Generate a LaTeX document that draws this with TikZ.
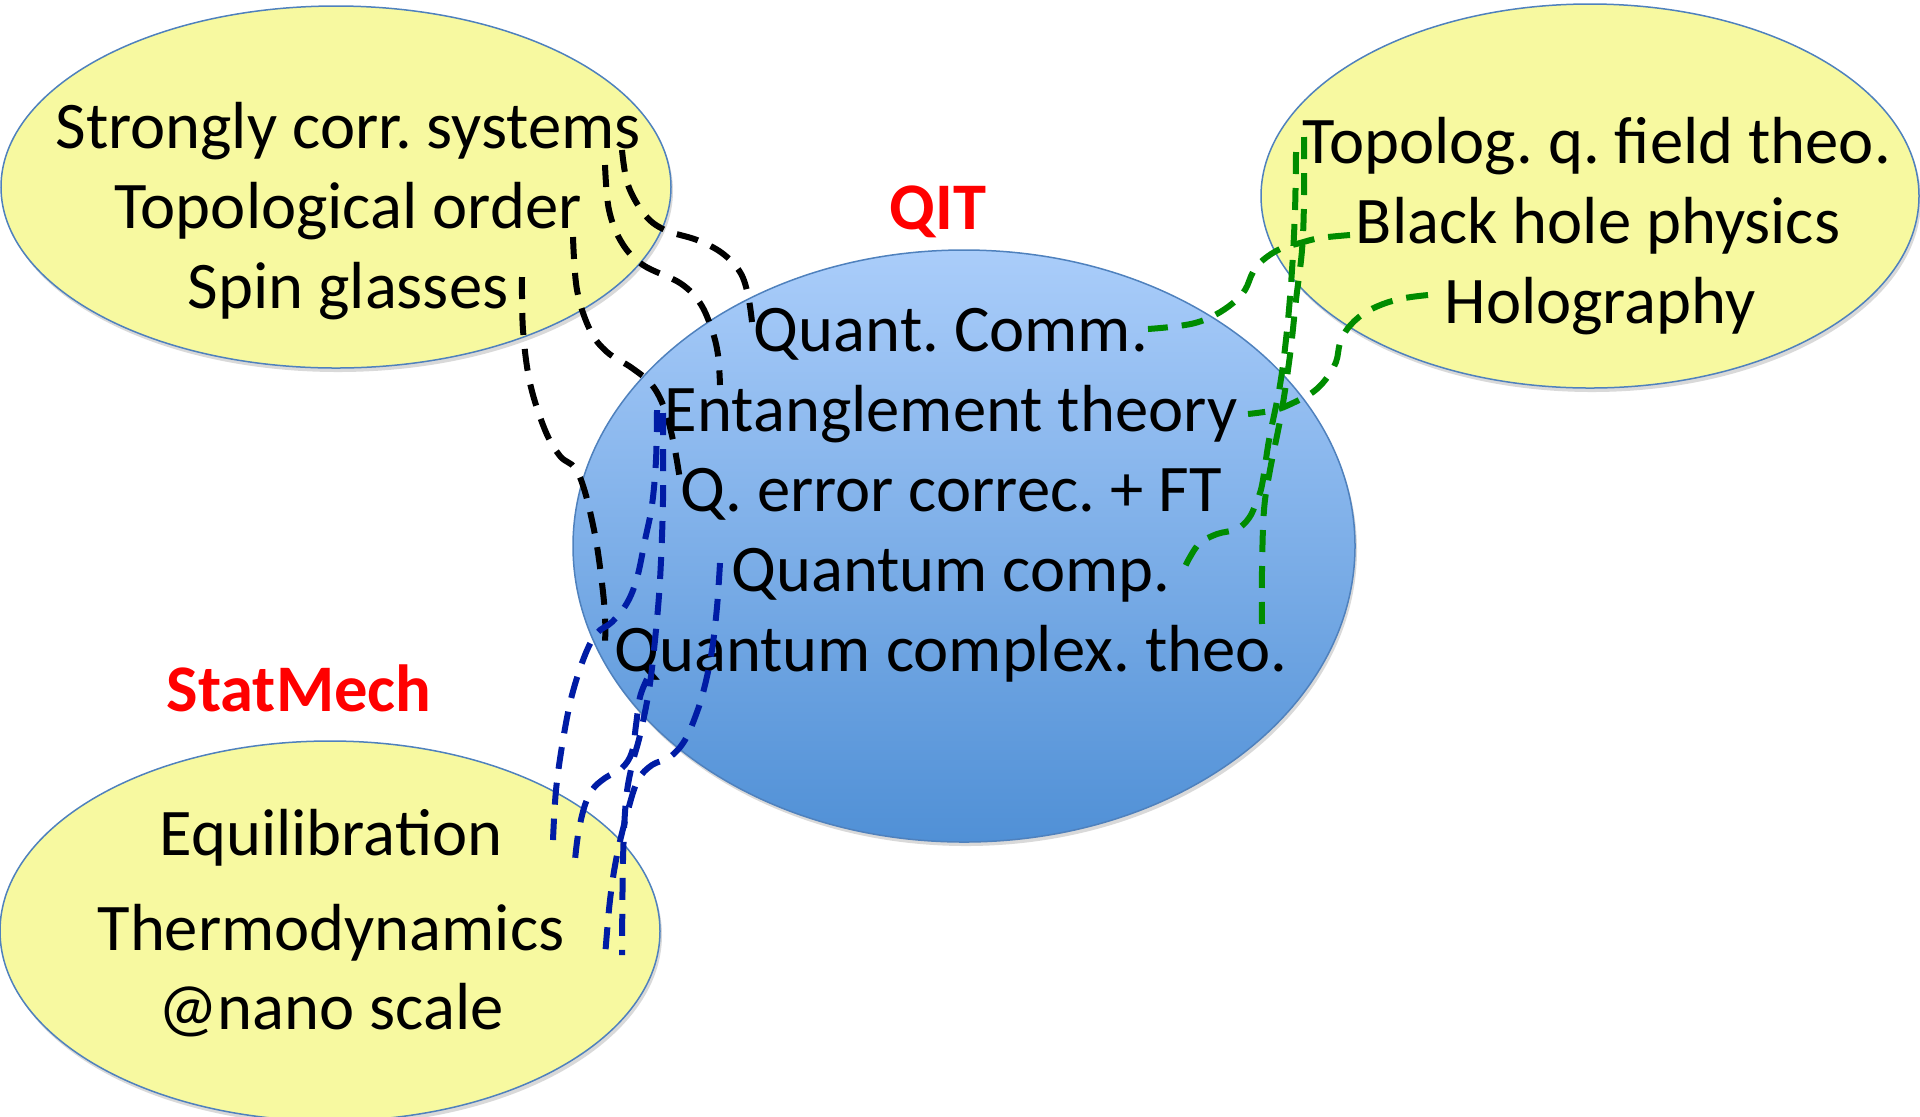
\documentclass[tikz,border=0pt]{standalone}
\usepackage{fontspec}
\setmainfont{Carlito}
\usetikzlibrary{shapes.geometric}
\definecolor{ylw}{RGB}{247,249,160}
\definecolor{edgeblue}{RGB}{79,129,189}
\definecolor{btop}{RGB}{170,205,250}
\definecolor{bbot}{RGB}{80,144,214}
\definecolor{qred}{RGB}{255,0,0}
\definecolor{dblue}{RGB}{0,28,165}
\definecolor{dgreen}{RGB}{0,140,0}
\frenchspacing
\begin{document}
\begin{tikzpicture}[x=0.5pt,y=-0.5pt,
  ell/.style={ellipse, draw=edgeblue, line width=0.75pt, inner sep=0pt},
  shad/.style={ellipse, fill=black, opacity=0.15, inner sep=0pt},
  txt/.style={anchor=base, inner sep=0pt, font=\fontsize{33.3}{40}\selectfont},
  ttl/.style={anchor=base, inner sep=0pt, text=qred, font=\fontsize{33.3}{40}\selectfont\bfseries},
  lnk/.style={line width=3pt, dash pattern=on 11pt off 7pt},
  blk/.style={lnk, draw=black},
  blu/.style={lnk, draw=dblue},
  grn/.style={lnk, draw=dgreen}]
\useasboundingbox (0,0) rectangle (1920,1116);
% shadows
\node[shad, minimum width=335pt, minimum height=181pt] at (338,191) {};
\node[shad, minimum width=329pt, minimum height=192pt] at (1592,200) {};
\node[shad, minimum width=391pt, minimum height=296pt] at (966,550) {};
\node[shad, minimum width=330pt, minimum height=190pt] at (332,935) {};
% ellipses
\node[ell, fill=ylw, minimum width=335pt, minimum height=181pt] (ecm) at (336,187) {};
\node[ell, fill=ylw, minimum width=329pt, minimum height=192pt] (ehep) at (1590,196) {};
\node[ell, top color=btop, bottom color=bbot, minimum width=391pt, minimum height=296pt] (eqit) at (964,546) {};
\node[ell, fill=ylw, minimum width=330pt, minimum height=190pt] (esm) at (330,931) {};
% texts
\node[txt] (scs) at (348,148) {Strongly corr. systems};
\node[txt] (topo) at (348,228) {Topological order};
\node[txt] (spin) at (348,308) {Spin glasses};
\node[ttl] (qit) at (938,229) {QIT};
\node[txt] (qc) at (951,351) {Quant. Comm.};
\node[txt] (ent) at (951,431) {Entanglement theory};
\node[txt] (qec) at (951,511) {Q. error correc. + FT};
\node[txt] (qcomp) at (951,591) {Quantum comp.};
\node[txt] (qcx) at (951,671) {Quantum complex. theo.};
\node[txt] (tqft) at (1597,163) {Topolog. q. field theo.};
\node[txt] (bh) at (1598,243) {Black hole physics};
\node[txt] (holo) at (1600,323) {Holography};
\node[ttl] (sm) at (299,711) {StatMech};
\node[txt] (eq) at (331,855) {Equilibration};
\node[txt] (thermo) at (331,950) {Thermodynamics};
\node[txt] (nano) at (331,1029) {@nano scale};
% connector end points
\coordinate (a1) at (622,150); \coordinate (a2) at (752,322);
\coordinate (b1) at (605,165); \coordinate (b2) at (720,385);
\coordinate (c1) at (573,237); \coordinate (c2) at (680,480);
\coordinate (d1) at (522,277); \coordinate (d2) at (605,648);
\coordinate (e1) at (657,410); \coordinate (e2) at (553,840);
\coordinate (f1) at (663,413); \coordinate (f2) at (622,955);
\coordinate (x1) at (647,679); \coordinate (x2) at (575,860);
\coordinate (g1) at (720,563); \coordinate (g2) at (605,957);
\coordinate (h1) at (1304,137); \coordinate (h2) at (1262,625);
\coordinate (i1) at (1296,152); \coordinate (i2) at (1182,573);
\coordinate (j1) at (1350,235); \coordinate (j2) at (1148,329);
\coordinate (k1) at (1428,295); \coordinate (k2) at (1248,414);
% black connectors
\draw[blk] plot[smooth, tension=0.6] coordinates {(a1) (628,185) (645,215) (665,230) (697,240) (722,253) (740,272) (748,295) (a2)};
\draw[blk] plot[smooth, tension=0.6] coordinates {(b1) (609,210) (622,243) (643,265) (680,283) (700,303) (712,330) (718,355) (b2)};
\draw[blk] plot[smooth, tension=0.6] coordinates {(c1) (577,290) (590,330) (607,352) (632,368) (652,385) (665,410) (674,445) (c2)};
\draw[blk] plot[smooth, tension=0.6] coordinates {(d1) (523,330) (530,383) (545,430) (560,456) (575,468) (585,492) (595,535) (601,575) (605,615) (d2)};
% blue connectors
\draw[blu] plot[smooth, tension=0.6] coordinates {(e1) (656,460) (652,505) (645,540) (637,578) (627,603) (612,622) (597,633) (585,655) (572,695) (563,740) (556,790) (e2)};
\draw[blu] plot[smooth, tension=0.6] coordinates {(f1) (663,500) (660,580) (655,640) (649,690) (640,735) (632,765) (626,800) (623,860) (f2)};
\draw[blu] plot[smooth, tension=0.6] coordinates {(x1) (640,697) (636,725) (632,752) (622,768) (605,778) (592,790) (584,808) (578,835) (x2)};
\draw[blu] plot[smooth, tension=0.6] coordinates {(g1) (717,607) (712,650) (705,685) (697,712) (685,740) (670,757) (652,765) (638,780) (628,810) (617,855) (610,900) (g2)};
% green connectors
\draw[grn] plot[smooth, tension=0.6] coordinates {(h1) (1304,200) (1302,250) (1296,300) (1290,355) (1281,415) (1270,470) (1264,510) (1262,570) (h2)};
\draw[grn] plot[smooth, tension=0.6] coordinates {(i1) (1295,210) (1292,270) (1287,330) (1280,385) (1269,440) (1262,485) (1256,503) (1249,518) (1237,529) (1217,534) (1200,543) (1190,557) (i2)};
\draw[grn] plot[smooth, tension=0.6] coordinates {(j1) (1320,238) (1300,243) (1280,249) (1263,260) (1253,272) (1245,290) (1233,303) (1215,315) (1195,323) (1170,327) (j2)};
\draw[grn] plot[smooth, tension=0.6] coordinates {(k1) (1405,298) (1383,304) (1363,314) (1348,328) (1340,343) (1336,362) (1326,379) (1313,392) (1295,402) (1275,410) (k2)};
\end{tikzpicture}
\end{document}
